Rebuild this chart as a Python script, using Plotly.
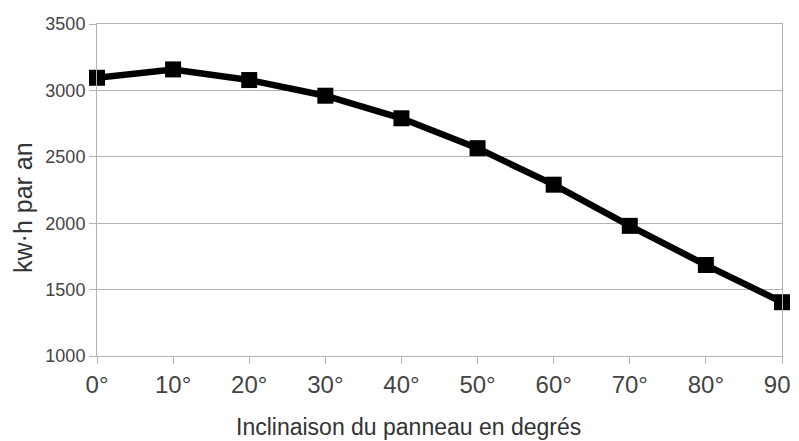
import plotly.graph_objects as go

angles = [0, 10, 20, 30, 40, 50, 60, 70, 80, 90]
angle_labels = ["0°", "10°", "20°", "30°", "40°", "50°", "60°", "70°", "80°", "90°"]
kwh = [3095, 3158, 3078, 2960, 2790, 2565, 2290, 1980, 1685, 1405]
y_ticks = [1000, 1500, 2000, 2500, 3000, 3500]
x_title = "Inclinaison du panneau en degrés"
y_title = "kw·h par an"

grid = "#b3b3b3"
font = "Liberation Sans"

fig = go.Figure()
fig.add_trace(go.Scatter(
    x=angles, y=kwh, mode="lines+markers",
    line=dict(color="black", width=6.5),
    marker=dict(symbol="square", size=16, color="black"),
    cliponaxis=False, showlegend=False,
))

# page body has an 8px margin, so the figure is sized/offset to compensate
fig.update_layout(
    width=791, height=433,
    margin=dict(l=89, r=17, t=16, b=85),
    paper_bgcolor="white", plot_bgcolor="white",
    font=dict(family=font, color="#444444"),
)
fig.update_xaxes(
    range=[0, 90], tickvals=angles, ticktext=angle_labels,
    tickfont=dict(size=24, color="#444444", family=font),
    ticks="outside", ticklen=7, tickcolor=grid,
    showline=True, linecolor=grid, linewidth=1, mirror=True,
    showgrid=False, zeroline=False, automargin=False,
    ticklabeloverflow="allow",
)
fig.update_yaxes(
    range=[1000, 3500], tickvals=y_ticks,
    tickfont=dict(size=18, color="#444444", family=font),
    ticks="outside", ticklen=7, tickcolor=grid,
    showline=True, linecolor=grid, linewidth=1, mirror=True,
    showgrid=True, gridcolor=grid, gridwidth=1, zeroline=False, automargin=False,
)
fig.add_annotation(
    text=x_title, xref="paper", yref="paper", x=0.455, y=-0.215,
    xanchor="center", yanchor="middle", showarrow=False,
    font=dict(size=23, color="#333333", family=font),
)
fig.add_annotation(
    text=y_title, xref="paper", yref="paper", x=-0.108, y=0.446,
    xanchor="center", yanchor="middle", textangle=-90, showarrow=False,
    font=dict(size=25, color="#333333", family=font),
)

fig.write_html("out.html")
